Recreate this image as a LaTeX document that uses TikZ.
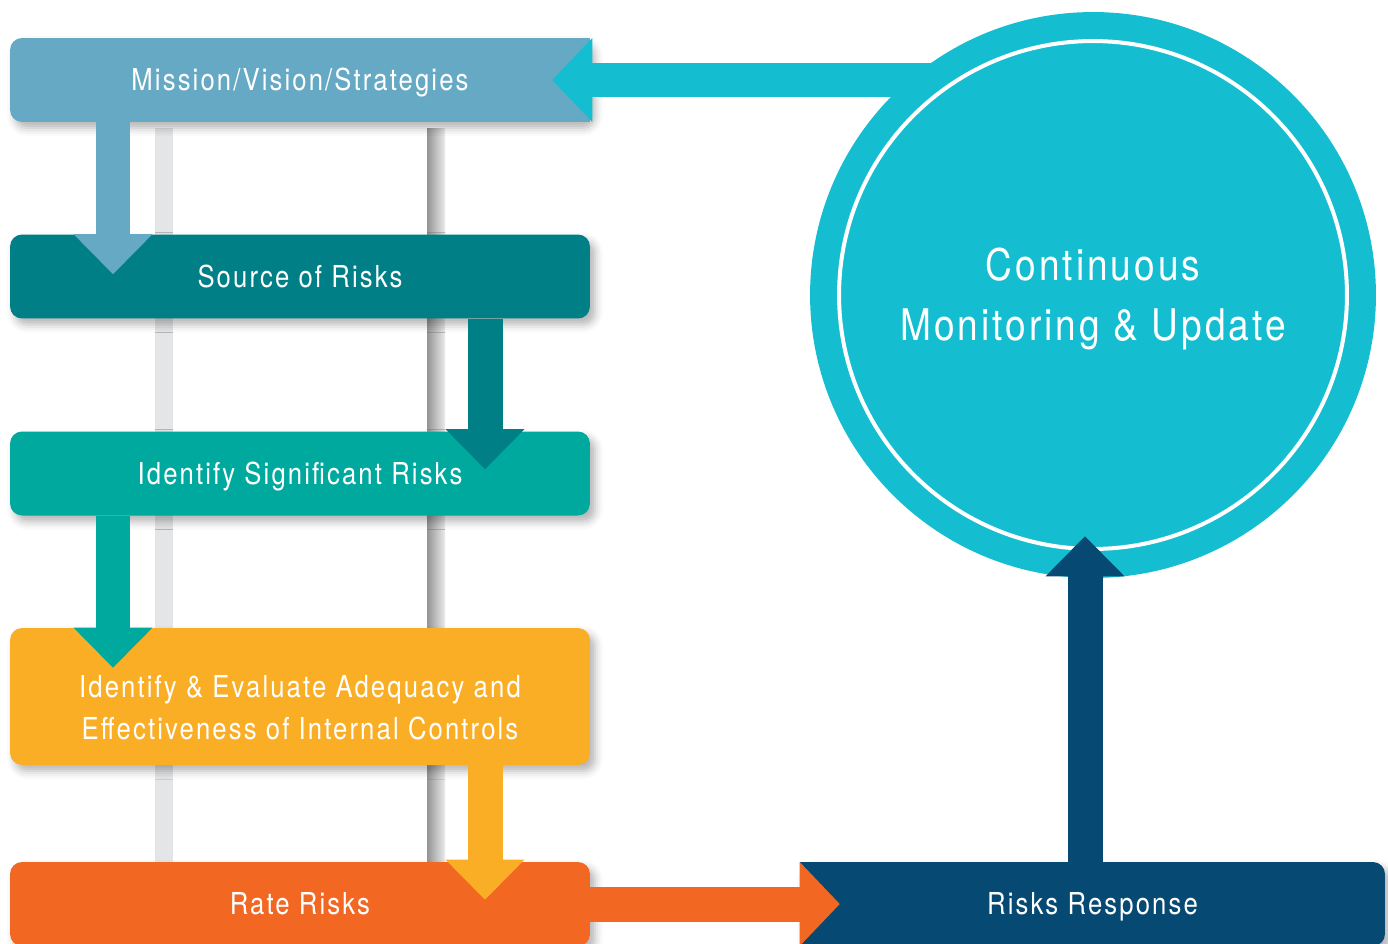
\documentclass[tikz,border=0pt]{standalone}
\usepackage{fontspec}
\newfontfamily\diagfont{TeX Gyre Heros}[FakeStretch=0.85,LetterSpace=7]
\usetikzlibrary{arrows.meta,calc,shadows.blur}
\definecolor{mvcol}{HTML}{65A9C4}
\definecolor{srccol}{HTML}{007F86}
\definecolor{sigcol}{HTML}{00A99E}
\definecolor{evalcol}{HTML}{F9AE26}
\definecolor{ratecol}{HTML}{F26722}
\definecolor{respcol}{HTML}{064A73}
\definecolor{circcol}{HTML}{14BED0}
\definecolor{barcol}{HTML}{E4E5E7}
\newcommand{\drawrails}[2] {
  \fill[barcol] (155,#1) rectangle (173,#2); % light rail
  \shade[left color=black!42, right color=black!8] (427,#1) rectangle (445,#2); % shaded rail
}
\newcommand{\squareend}[3] {
  \fill[#1] (#2) rectangle (#3); % hide the rounding on the arrow side
}

\begin{document}
\begin{tikzpicture}[x=0.02cm, y=-0.02cm,
    boxtext/.style={text=white, font={\diagfont\fontsize{17.2}{23.8}\selectfont}},
    stage/.style={boxtext, rectangle, rounded corners=0.24cm, minimum width=11.6cm,
      minimum height=1.68cm, inner sep=0pt, text height=12.3pt, text depth=0pt,
      blur shadow={shadow xshift=0.1cm, shadow yshift=-0.12cm, shadow blur radius=0.16cm, shadow opacity=30}},
    flow/.style={line width=0.7cm, -{Triangle[length=0.8cm 0 0, width=#1 0 0, line width=0pt]}},
    flow/.default=1.58cm]
    \useasboundingbox (0,0) rectangle (1388,943);
    \drawrails{128}{862}
    \coordinate (colL) at (113,0);
    \coordinate (colR) at (485,0);
    \coordinate (upx) at (1085,0);
    \coordinate (monc) at (1093,295);

    \node[stage, fill=mvcol] (mission) at (300,80) {Mission/Vision/Strategies};
    \squareend{mvcol}{$(mission.north east)+(-20,0)$}{mission.south east}
    \node[stage, fill=srccol] (source) at (300,276.5) {Source of Risks};
    \draw[flow, mvcol] (mission.south -| colL) -- ($(source.north -| colL)+(0,40)$);
    \node[stage, fill=sigcol] (signif) at (300,473.5) {Identify Significant Risks};
    \draw[flow, srccol] (source.south -| colR) -- ($(signif.north -| colR)+(0,38)$);
    \node[stage, fill=evalcol, minimum height=2.74cm] (evalbox) at (300,696.5) {};
    \node[boxtext, align=center] (evaltext) at ($(evalbox.center)+(0,11)$)
      {Identify \& Evaluate Adequacy and\\Effectiveness of Internal Controls};
    \draw[flow, sigcol] (signif.south -| colL) -- ($(evalbox.north -| colL)+(0,40)$);
    \node[stage, fill=ratecol] (rate) at (300,904) {Rate Risks};
    \draw[flow, evalcol] (evalbox.south -| colR) -- ($(rate.north -| colR)+(0,38)$);
    \node[stage, fill=respcol, minimum width=11.7cm] (respond) at (1092.5,904) {Risks Response};
    \squareend{respcol}{respond.north west}{$(respond.south west)+(20,0)$}
    \draw[flow=1.68cm, ratecol] (rate.east) -- ($(respond.west)+(40,0)$);

    % feedback loop
    \draw[flow=1.68cm, circcol] (monc |- mission.east) -- ($(mission.east)+(-38,0)$);
    \node[circle, fill=circcol, minimum size=11.32cm, inner sep=0pt] (monitor) at (monc) {};
    \draw[white, line width=0.08cm] (monitor.center) circle (5.08cm);
    \node[text=white, align=center, font={\diagfont\fontsize{24.8}{33.7}\selectfont}] (montext)
      at ($(monitor.center)+(0,4)$) {Continuous\\Monitoring \& Update};
    \draw[flow, respcol] (respond.north -| upx) -- ($(monitor.south -| upx)+(0,-42)$);
\end{tikzpicture}
\end{document}
